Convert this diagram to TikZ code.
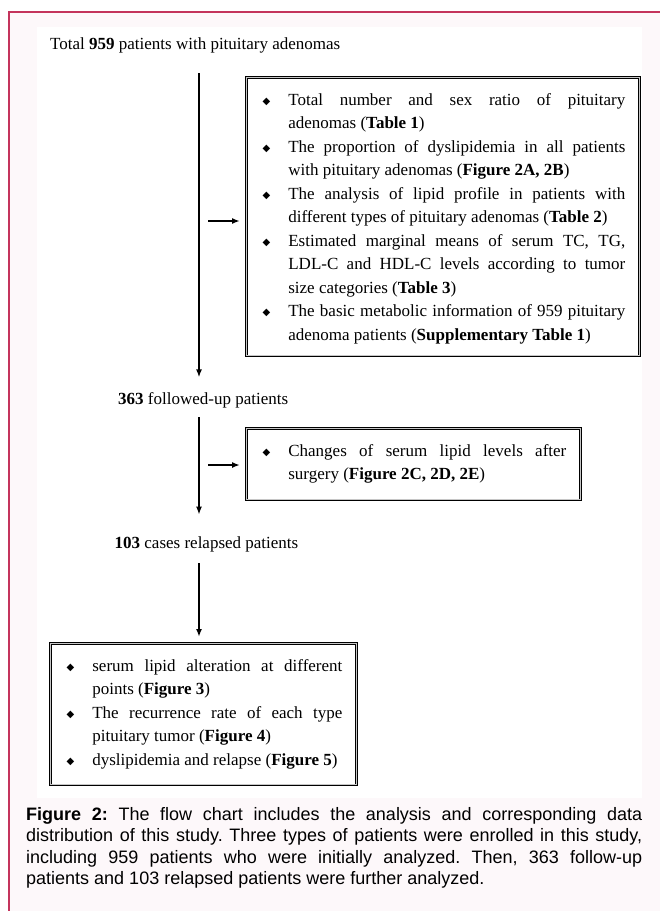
\documentclass[tikz,border=0pt]{standalone}
\usepackage{amssymb}
\usepackage{fontspec}
\setmainfont{Liberation Serif}
\newfontfamily\captionfont{Liberation Sans}
\newfontfamily\symfont{DejaVu Sans}
\usepackage{tikz}
\usetikzlibrary{arrows.meta}
\usetikzlibrary{calc}
\usetikzlibrary{positioning}
\definecolor{framered}{RGB}{196,52,92}
\definecolor{pagepink}{RGB}{253,248,250}
\hbadness=10000
\frenchspacing
\newcommand{\diamondmark}{\raisebox{1pt}{\symfont\fontsize{10}{10}\selectfont ◆}}
\newcommand{\lastdepth}[1]{\rule[-#1]{0pt}{#1}}
\newenvironment{findlist}{\begin{list}{\diamondmark}{%
  \setlength{\leftmargin}{28pt}\setlength{\labelwidth}{10pt}%
  \setlength{\labelsep}{18pt}\setlength{\itemsep}{0pt}%
  \setlength{\parsep}{0pt}\setlength{\topsep}{0pt}%
  \setlength{\partopsep}{0pt}\setlength{\itemindent}{0pt}}}{\end{list}}
\tikzset{>={Latex[length=8pt,width=6pt]}}
\tikzset{
  flow_txt/.style = {inner sep=0pt, anchor=base west, font=\fontsize{17}{23.5}\selectfont},
  flow_box/.style = {draw=black, line width=0.7pt, double=gray!45, double distance=0.9pt,
    inner xsep=14pt, inner ysep=4.5pt, align=justify, anchor=north west,
    font=\fontsize{17}{23.5}\selectfont},
  flow_arr/.style = {->, line width=1.6pt},
  flow_cap/.style = {inner sep=0pt, anchor=north west, align=justify, text width=616pt,
    font=\captionfont\fontsize{18}{21.5}\selectfont}
}
\begin{document}
\begin{tikzpicture}[x=1pt,y=-1pt]
    \useasboundingbox (0,0) rectangle (660,911);
    \fill[pagepink] (9,12) rectangle (660,911);
    \fill[white] (37,27) rectangle (642,798);
    \draw[framered, line width=2pt] (9,911) -- (9,12) -- (660,12);

    \node [flow_txt] (total) at (50,49) {Total \textbf{959} patients with pituitary adenomas};
    \node [flow_txt] (follow) at (118,404) {\textbf{363} followed-up patients};
    \node [flow_txt] (relapse) at (114.5,548) {\textbf{103} cases relapsed patients};

    \node [flow_box, text width=365pt] (box1) at (246,77) {%
\begin{findlist}
\item \strut Total number and sex ratio of pituitary\linebreak adenomas (\textbf{Table 1})
\item \strut The proportion of dyslipidemia in all patients\linebreak with pituitary adenomas (\textbf{Figure 2A, 2B})
\item \strut The analysis of lipid profile in patients with\linebreak different types of pituitary adenomas (\textbf{Table 2})
\item \strut Estimated marginal means of serum TC, TG,\linebreak LDL-C and HDL-C levels according to tumor\linebreak size categories (\textbf{Table 3})
\item \strut The basic metabolic information of 959 pituitary\linebreak adenoma patients (\textbf{Supplementary Table 1})\lastdepth{11pt}
\end{findlist}};
    \node [flow_box, text width=306pt] (box2) at (246,428) {%
\begin{findlist}
\item \strut Changes of serum lipid levels after\linebreak surgery (\textbf{Figure 2C, 2D, 2E})\lastdepth{15.5pt}
\end{findlist}};
    \node [flow_box, text width=278pt] (box3) at (50,643) {%
\begin{findlist}
\item \strut serum lipid alteration at different\linebreak points (\textbf{Figure 3})
\item \strut The recurrence rate of each type\linebreak pituitary tumor (\textbf{Figure 4})
\item \strut dyslipidemia and relapse (\textbf{Figure 5})\lastdepth{15pt}
\end{findlist}};

    \coordinate (spine) at (199,0);
    \coordinate (h1) at (208,221);
    \coordinate (h2) at (208,465);
    \draw [flow_arr, shorten >=14.4pt] ([yshift=-20.3pt]total.south -| spine) -- (follow.north -| spine);
    \draw [flow_arr, shorten >=21.4pt] ([yshift=-9.3pt]follow.south -| spine) -- (relapse.north -| spine);
    \draw [flow_arr, shorten >=6pt] ([yshift=-11.3pt]relapse.south -| spine) -- (box3.north -| spine);
    \draw [flow_arr, shorten >=6pt] (h1) -- (h1 -| box1.west);
    \draw [flow_arr, shorten >=6pt] (h2) -- (h2 -| box2.west);

    \node [flow_cap] (caption) at (26,805) {\strut\textbf{Figure 2:} The flow chart includes the analysis and corresponding data\linebreak distribution of this study. Three types of patients were enrolled in this study,\linebreak including 959 patients who were initially analyzed. Then, 363 follow-up\linebreak patients and 103 relapsed patients were further analyzed.};
\end{tikzpicture}
\end{document}
